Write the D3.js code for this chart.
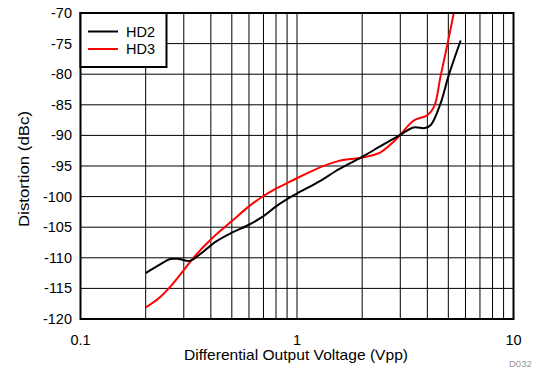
<!DOCTYPE html>
<html lang="en">
<head>
  <meta charset="utf-8">
  <title>Distortion vs Differential Output Voltage</title>
  <script src="https://cdnjs.cloudflare.com/ajax/libs/d3/7.8.5/d3.min.js"></script>
  <style>
    body { margin: 0; background: #fff; }
    text { font-family: "Liberation Sans", Arial, sans-serif; fill: #000; }
    .grid line { stroke: #000; stroke-width: 1; }
    .line { fill: none; stroke-width: 2; }
  </style>
</head>
<body>
  <script>
    var w = 534;
    var h = 367;

    // HD2 (black)
    var hd2Vpp = [0.2, 0.23, 0.26, 0.285, 0.32, 0.36, 0.42, 0.5, 0.6, 0.7, 0.8, 0.9, 1, 1.3, 1.5, 2, 2.42, 3, 3.45, 3.9, 4.15, 4.6, 5.0, 5.7];
    var hd2Dbc = [-112.5, -111.2, -110.2, -110.2, -110.5, -109.3, -107.4, -105.9, -104.6, -103.2, -101.6, -100.4, -99.5, -97.3, -95.9, -93.5, -91.8, -89.9, -88.7, -88.8, -88.3, -84.8, -80.4, -74.5];

    // HD3 (red)
    var hd3Vpp = [0.2, 0.23, 0.26, 0.3, 0.34, 0.4, 0.5, 0.6, 0.7, 0.8, 0.9, 1, 1.3, 1.55, 2, 2.42, 2.8, 3, 3.45, 4, 4.3, 4.6, 5.0, 5.3];
    var hd3Dbc = [-118.1, -116.6, -114.7, -112.0, -109.6, -107.0, -104.0, -101.6, -99.9, -98.7, -97.8, -97.0, -95.1, -94.2, -93.6, -92.8, -91.0, -89.9, -87.6, -86.7, -85.3, -80.4, -74.4, -70];

    var xTicks = [0.1, 1, 10];
    var xTickLabels = ['0.1', '1', '10'];
    var yTicks = [-70, -75, -80, -85, -90, -95, -100, -105, -110, -115, -120];

    var pLeft = 80.5, pRight = 513.5, pTop = 13, pBottom = 319;

    var xScale = d3.scaleLog().domain([0.1, 10]).range([pLeft, pRight]);
    var yScale = d3.scaleLinear().domain([-120, -70]).range([pBottom, pTop]);

    var svg = d3.select('body').append('svg')
      .attr('width', w)
      .attr('height', h);

    // grid
    var minor = [];
    [0.1, 1].forEach(function (d) {
      for (var k = 1; k <= 9; k++) minor.push(d * k);
    });
    var grid = svg.append('g').attr('class', 'grid');
    grid.selectAll('.v').data(minor.filter(function (d) { return d > 0.1; }))
      .enter().append('line')
      .attr('x1', d => xScale(d)).attr('x2', d => xScale(d))
      .attr('y1', pTop).attr('y2', pBottom);
    grid.selectAll('.h').data(yTicks)
      .enter().append('line')
      .attr('x1', pLeft).attr('x2', pRight)
      .attr('y1', d => yScale(d)).attr('y2', d => yScale(d));

    // curves
    var line = d3.line()
      .x(d => xScale(d[0]))
      .y(d => yScale(d[1]))
      .curve(d3.curveCatmullRom.alpha(0.5));

    svg.append('path')
      .datum(d3.zip(hd3Vpp, hd3Dbc))
      .attr('class', 'line')
      .attr('stroke', '#ff0000')
      .attr('d', line);

    svg.append('path')
      .datum(d3.zip(hd2Vpp, hd2Dbc))
      .attr('class', 'line')
      .attr('stroke', '#000')
      .attr('d', line);

    // frame
    svg.append('rect')
      .attr('x', pLeft).attr('y', pTop)
      .attr('width', pRight - pLeft).attr('height', pBottom - pTop)
      .attr('fill', 'none').attr('stroke', '#000').attr('stroke-width', 2);

    // y ticks
    svg.selectAll('.ylab').data(yTicks).enter().append('text')
      .attr('x', 72)
      .attr('y', d => yScale(d))
      .attr('dy', '0.35em')
      .attr('text-anchor', 'end')
      .attr('font-size', 14.5)
      .text(d => d);

    // x ticks
    svg.selectAll('.xlab').data(xTicks).enter().append('text')
      .attr('x', d => xScale(d))
      .attr('y', 340)
      .attr('dy', '0.35em')
      .attr('text-anchor', 'middle')
      .attr('font-size', 14.5)
      .text((d, i) => xTickLabels[i]);

    svg.append('text')
      .attr('x', 296).attr('y', 360)
      .attr('text-anchor', 'middle')
      .attr('font-size', 14.5)
      .attr('textLength', 224)
      .attr('lengthAdjust', 'spacingAndGlyphs')
      .text('Differential Output Voltage (Vpp)');

    svg.append('text')
      .attr('transform', 'translate(24,169) rotate(-90)')
      .attr('dy', '0.35em')
      .attr('text-anchor', 'middle')
      .attr('font-size', 14.5)
      .attr('textLength', 116)
      .attr('lengthAdjust', 'spacingAndGlyphs')
      .text('Distortion (dBc)');

    svg.append('text')
      .attr('x', 509).attr('y', 367)
      .attr('font-size', 9.5)
      .style('fill', '#999')
      .text('D032');

    // legend
    var lg = svg.append('g');
    lg.append('rect')
      .attr('x', pLeft).attr('y', pTop)
      .attr('width', 86).attr('height', 54)
      .attr('fill', '#fff').attr('stroke', '#000').attr('stroke-width', 2);
    var items = [['HD2', '#000'], ['HD3', '#ff0000']];
    items.forEach(function (it, i) {
      var yy = 31.5 + i * 17.5;
      lg.append('line')
        .attr('x1', 88).attr('x2', 118)
        .attr('y1', yy).attr('y2', yy)
        .attr('stroke', it[1]).attr('stroke-width', 2);
      lg.append('text')
        .attr('x', 126).attr('y', yy)
        .attr('dy', '0.35em')
        .attr('font-size', 14.5)
        .text(it[0]);
    });
  </script>
</body>
</html>
